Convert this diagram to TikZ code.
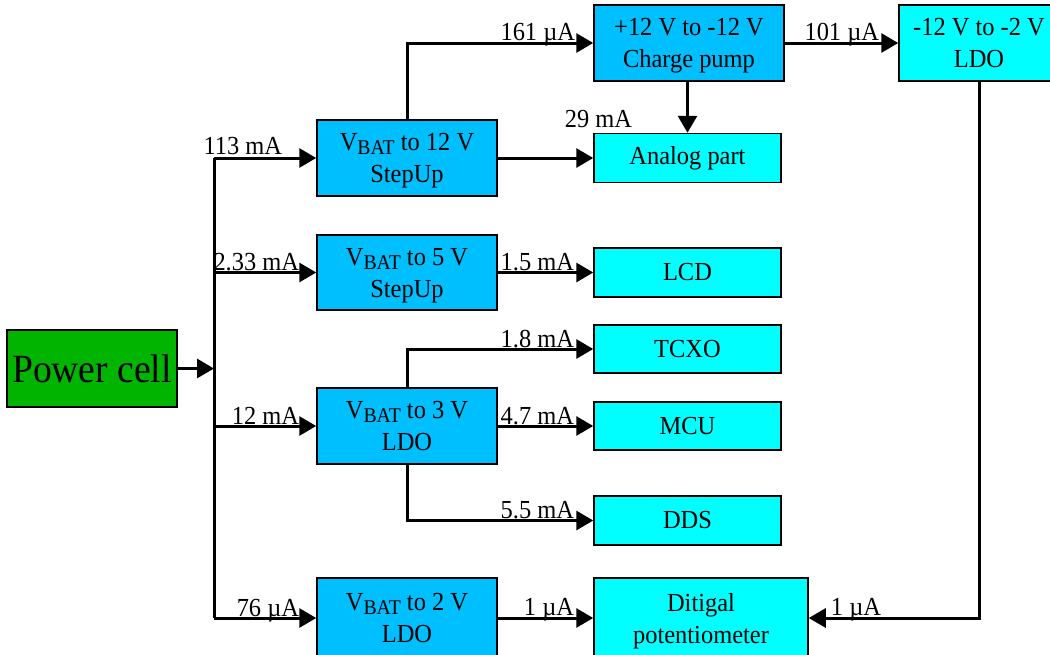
\documentclass[tikz,border=0pt]{standalone}
\usepackage{fontspec}
\setmainfont{Liberation Serif}[FakeStretch=0.94]
\usetikzlibrary{arrows.meta}
\definecolor{pcgreen}{RGB}{0,180,0}
\definecolor{dsblue}{RGB}{0,191,255}
\definecolor{cyanbox}{RGB}{0,255,255}
\newcommand\vbat{V\raisebox{-4pt}{\fontsize{21}{21}\selectfont BAT}}
\tikzset{
  blk/.style={draw=black, line width=1.5pt, inner sep=0pt, align=center,
    font=\fontsize{26}{32}\selectfont},
  conv/.style={blk, fill=dsblue, minimum width=180pt, minimum height=76pt, text depth=0pt},
  load/.style={blk, fill=cyanbox, minimum width=187pt, minimum height=49pt},
  wire/.style={line width=3pt},
  arr/.style={line width=3pt, -{Triangle[length=17pt,width=19pt]}},
  lab/.style={inner sep=0pt, font=\fontsize{26}{26}\selectfont},
}
\begin{document}
\begin{tikzpicture}[x=1pt,y=-1pt]
\useasboundingbox (0,0) rectangle (1050,654);
\clip (0,0) rectangle (1050,654);
% nodes
\node[blk, fill=pcgreen, minimum width=170pt, minimum height=77pt,
  font=\fontsize{40}{40}\selectfont] (pc) at (92,368.5) {Power cell};
\node[conv] (su12) at (407,158) {\vbat{} to 12 V\\StepUp};
\node[conv, minimum height=75pt] (su5) at (407,272.5) {\vbat{} to 5 V\\StepUp};
\node[conv] (ldo3) at (407,426) {\vbat{} to 3 V\\LDO};
\node[conv, minimum height=80pt] (ldo2) at (407,618) {\vbat{} to 2 V\\LDO};
\node[conv, minimum width=190pt] (cp) at (689,43) {+12 V to -12 V\\Charge pump};
\node[conv, fill=cyanbox, minimum width=160pt] (ldo12) at (979,43) {-12 V to -2 V\\LDO};
\node[load] (analog) at (687.5,158) {Analog part};
\node[load] (lcd) at (687.5,272.5) {LCD};
\node[load, minimum height=48pt] (tcxo) at (687.5,349) {TCXO};
\node[load, minimum height=48pt] (mcu) at (687.5,426) {MCU};
\node[load] (dds) at (687.5,520.5) {DDS};
\node[conv, fill=cyanbox, minimum width=214pt, minimum height=80pt] (pot) at (701,618) {Ditigal\\potentiometer};
% bus
\coordinate (bx) at (214,0);
\draw[arr] (pc.east) -- (pc.east -| bx);
\draw[wire] (su12.west -| bx) -- (ldo2.west -| bx);
\draw[arr] (su12.west -| bx) -- (su12.west);
\draw[arr] (su5.west -| bx) -- (su5.west);
\draw[arr] (ldo3.west -| bx) -- (ldo3.west);
\draw[arr] (ldo2.west -| bx) -- (ldo2.west);
% connectors
\draw[arr] (su12.north) |- (cp.west);
\draw[arr] (su12.east) -- (analog.west);
\draw[arr] (cp.south -| analog.north) -- (analog.north);
\draw[arr] (cp.east) -- (ldo12.west);
\draw[arr] (su5.east) -- (lcd.west);
\draw[arr] (ldo3.north) |- (tcxo.west);
\draw[arr] (ldo3.east) -- (mcu.west);
\draw[arr] (ldo3.south) |- (dds.west);
\draw[arr] (ldo2.east) -- (pot.west);
\draw[arr] (ldo12.south) |- (pot.east);
% labels
\node[lab, anchor=base east] (l113) at ([xshift=-34pt,yshift=4pt]su12.west) {113 mA};
\node[lab, anchor=base east] (l233) at ([xshift=-17pt,yshift=2pt]su5.west) {2.33 mA};
\node[lab, anchor=base east] (l12) at ([xshift=-17pt,yshift=2pt]ldo3.west) {12 mA};
\node[lab, anchor=base east] (l76) at ([xshift=-17pt,yshift=2pt]ldo2.west) {76 µA};
\node[lab, anchor=base east] (l161) at ([xshift=-18pt,yshift=3pt]cp.west) {161 µA};
\node[lab, anchor=base east] (l29) at ([xshift=39pt,yshift=5pt]analog.north west) {29 mA};
\node[lab, anchor=base east] (l101) at ([xshift=-19pt,yshift=3pt]ldo12.west) {101 µA};
\node[lab, anchor=base east] (l15) at ([xshift=-19pt,yshift=2pt]lcd.west) {1.5 mA};
\node[lab, anchor=base east] (l18) at ([xshift=-19pt,yshift=2pt]tcxo.west) {1.8 mA};
\node[lab, anchor=base east] (l47) at ([xshift=-19pt,yshift=2pt]mcu.west) {4.7 mA};
\node[lab, anchor=base east] (l55) at ([xshift=-19pt,yshift=2pt]dds.west) {5.5 mA};
\node[lab, anchor=base east] (l1a) at ([xshift=-19pt,yshift=3pt]pot.west) {1 µA};
\node[lab, anchor=base west] (l1b) at ([xshift=22pt,yshift=3pt]pot.east) {1 µA};
\end{tikzpicture}
\end{document}
